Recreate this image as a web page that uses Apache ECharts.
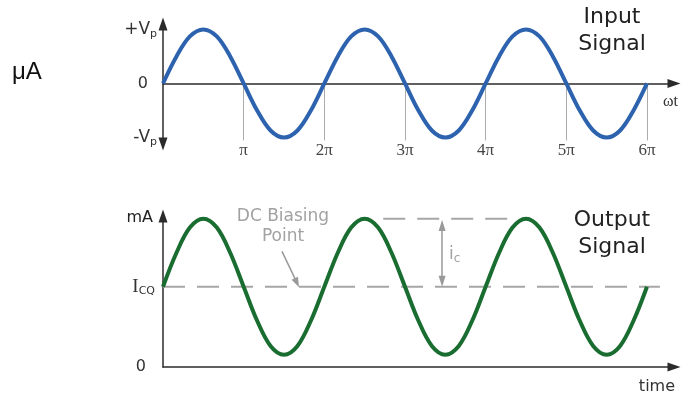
<!DOCTYPE html>
<html>
<head>
<meta charset="utf-8">
<script src="https://cdn.jsdelivr.net/npm/echarts@6/dist/echarts.min.js"></script>
<style>
  html, body { margin: 0; padding: 0; background: #ffffff; }
  #chart { width: 681px; height: 397px; }
</style>
</head>
<body>
<div id="chart"></div>
<script>
// Phase ωt expressed in multiples of π, sampled every π/6
const phase = [
  0, 0.167, 0.333, 0.5, 0.667, 0.833,
  1, 1.167, 1.333, 1.5, 1.667, 1.833,
  2, 2.167, 2.333, 2.5, 2.667, 2.833,
  3, 3.167, 3.333, 3.5, 3.667, 3.833,
  4, 4.167, 4.333, 4.5, 4.667, 4.833,
  5, 5.167, 5.333, 5.5, 5.667, 5.833,
  6
];

// Input voltage, in units of Vp
const inputSignal = [
  0, 0.5, 0.87, 1, 0.87, 0.5,
  0, -0.5, -0.87, -1, -0.87, -0.5,
  0, 0.5, 0.87, 1, 0.87, 0.5,
  0, -0.5, -0.87, -1, -0.87, -0.5,
  0, 0.5, 0.87, 1, 0.87, 0.5,
  0, -0.5, -0.87, -1, -0.87, -0.5,
  0
];

// Quiescent collector current (DC biasing point)
const icq = 1.18;

// Output collector current, swinging around ICQ
const outputSignal = [
  1.18, 1.68, 2.05, 2.18, 2.05, 1.68,
  1.18, 0.68, 0.31, 0.18, 0.31, 0.68,
  1.18, 1.68, 2.05, 2.18, 2.05, 1.68,
  1.18, 0.68, 0.31, 0.18, 0.31, 0.68,
  1.18, 1.68, 2.05, 2.18, 2.05, 1.68,
  1.18, 0.68, 0.31, 0.18, 0.31, 0.68,
  1.18
];

// Peak of the output swing
const outputPeak = 2.18;

// Tick labels
const piTickValues = [1, 2, 3, 4, 5, 6];
const piTickLabels = ['π', '2π', '3π', '4π', '5π', '6π'];
const inputTickValues = [-1, 0, 1];
const inputTickLabels = [['-V', 'p'], ['0', ''], ['+V', 'p']];
const outputTickValues = [0, icq];
const outputTickLabels = [['0', ''], ['I', 'CQ']];

// Annotation geometry (in axis units)
const icqLineEnd = 6.16;
const swingLineRange = [2.73, 4.27];
const icArrowX = 3.46;
const biasArrow = [[1.475, 1.70], [1.66, 1.24]];

const BLUE = '#2d63ae';
const GREEN = '#1a6d30';
const AXIS = '#2b2b2b';
const GREY = '#a6a6a6';
const SANS = 'DejaVu Sans';
const SERIF = 'Liberation Serif';

const xMax = 6.335;
const inputRange = [-1.12, 1.10];
const topGridHeight = 120;

// The ωt axis sits on the zero line of the input panel
const zeroOffset = -topGridHeight * (0 - inputRange[0]) / (inputRange[1] - inputRange[0]);

const axisLineStyle = { color: AXIS, width: 1.5 };

function subLabel(values, labels, mainKey) {
  return function (v) {
    let idx = values.findIndex(t => Math.abs(t - v) < 1e-6);
    if (idx < 0) return '';
    const pair = labels[idx];
    if (!pair[1]) return '{z|' + pair[0] + '}';
    return '{' + mainKey + '|' + pair[0] + '}{s|' + pair[1] + '}';
  };
}

const labelRich = {
  m: { fontFamily: SANS, fontSize: 17, color: '#333', lineHeight: 20 },
  i: { fontFamily: SERIF, fontSize: 19, color: '#333', lineHeight: 20 },
  s: { fontFamily: SANS, fontSize: 11, color: '#333', lineHeight: 11, padding: [9, 0, 0, 0], verticalAlign: 'bottom' },
  z: { fontFamily: SANS, fontSize: 16, color: '#333', lineHeight: 20, padding: [0, 9, 0, 0] }
};

const chart = echarts.init(document.getElementById('chart'), null, { renderer: 'canvas' });

chart.setOption({
  animation: false,
  backgroundColor: '#ffffff',
  grid: [
    { left: 163, top: 24, width: 511, height: topGridHeight },
    { left: 163, top: 216, width: 511, height: 151 }
  ],
  xAxis: [
    {
      gridIndex: 0, type: 'value', min: 0, max: xMax,
      offset: zeroOffset,
      axisLine: { onZero: false, lineStyle: axisLineStyle, symbol: ['none', 'triangle'], symbolSize: [9, 13] },
      axisTick: { show: true, customValues: piTickValues, length: 57, lineStyle: { color: '#ababab', width: 1 } },
      axisLabel: {
        show: true, customValues: piTickValues, margin: 59,
        formatter: v => piTickLabels[piTickValues.indexOf(v)] || '',
        fontFamily: SERIF, fontSize: 17, color: '#444'
      },
      splitLine: { show: false },
      name: 'ωt', nameLocation: 'end', nameGap: -11,
      nameTextStyle: { fontFamily: SERIF, fontSize: 16, color: '#333', align: 'left', verticalAlign: 'top', padding: [10, 0, 0, 0] }
    },
    {
      gridIndex: 1, type: 'value', min: 0, max: xMax,
      axisLine: { onZero: false, lineStyle: axisLineStyle, symbol: ['none', 'triangle'], symbolSize: [9, 13] },
      axisTick: { show: false },
      axisLabel: { show: false },
      splitLine: { show: false },
      name: 'time', nameLocation: 'end', nameGap: 1,
      nameTextStyle: { fontFamily: SANS, fontSize: 16, color: '#333', align: 'right', verticalAlign: 'top', padding: [12, 0, 0, 0] }
    }
  ],
  yAxis: [
    {
      gridIndex: 0, type: 'value', min: inputRange[0], max: inputRange[1],
      axisLine: { show: true, onZero: false, lineStyle: axisLineStyle, symbol: ['triangle', 'triangle'], symbolSize: [9, 13] },
      axisTick: { show: false },
      axisLabel: {
        show: true, customValues: inputTickValues, margin: 6,
        formatter: subLabel(inputTickValues, inputTickLabels, 'm'),
        rich: labelRich
      },
      splitLine: { show: false }
    },
    {
      gridIndex: 1, type: 'value', min: 0, max: 2.22,
      axisLine: { show: true, onZero: false, lineStyle: axisLineStyle, symbol: ['none', 'triangle'], symbolSize: [9, 13] },
      axisTick: { show: false },
      axisLabel: {
        show: true, customValues: outputTickValues, margin: 8,
        formatter: subLabel(outputTickValues, outputTickLabels, 'i'),
        rich: labelRich
      },
      splitLine: { show: false },
      name: 'mA', nameLocation: 'end', nameGap: -2,
      nameTextStyle: { fontFamily: SANS, fontSize: 16, color: '#222', align: 'right', verticalAlign: 'middle', padding: [0, 10, 0, 0] }
    }
  ],
  series: [
    {
      name: 'Input', type: 'line', xAxisIndex: 0, yAxisIndex: 0,
      data: phase.map((p, i) => [p, inputSignal[i]]),
      smooth: 0.35, showSymbol: false, z: 3,
      lineStyle: { color: BLUE, width: 4 }
    },
    {
      name: 'ICQ', type: 'line', xAxisIndex: 1, yAxisIndex: 1,
      data: [[0, icq], [icqLineEnd, icq]],
      showSymbol: false, z: 1, silent: true,
      lineStyle: { color: GREY, width: 2, type: [22, 12] }
    },
    {
      name: 'Swing', type: 'line', xAxisIndex: 1, yAxisIndex: 1,
      data: [[swingLineRange[0], outputPeak], [swingLineRange[1], outputPeak]],
      showSymbol: false, z: 1, silent: true,
      lineStyle: { color: GREY, width: 2, type: [22, 12] },
      markLine: {
        silent: true, z: 4,
        symbol: ['none', 'triangle'],
        label: { show: false },
        lineStyle: { type: 'solid', color: '#999', width: 1.5 },
        data: [
          [
            { coord: [icArrowX, icq + 0.08], symbol: 'triangle', symbolSize: [7, 11] },
            { coord: [icArrowX, outputPeak - 0.1], symbol: 'triangle', symbolSize: [7, 11] }
          ],
          [
            { coord: biasArrow[0], symbol: 'none' },
            { coord: biasArrow[1], symbol: 'triangle', symbolSize: [7, 10] }
          ]
        ]
      }
    },
    {
      name: 'Output', type: 'line', xAxisIndex: 1, yAxisIndex: 1,
      data: phase.map((p, i) => [p, outputSignal[i]]),
      smooth: 0.35, showSymbol: false, z: 3,
      lineStyle: { color: GREEN, width: 4 }
    }
  ],
  graphic: [
    {
      type: 'text', x: 12, y: 72,
      style: { text: 'μA', font: '24px "Liberation Sans"', fill: '#111', verticalAlign: 'middle' }
    },
    {
      type: 'text', x: 612, y: 4,
      style: { text: 'Input\nSignal', font: '22px "DejaVu Sans"', fill: '#222', align: 'center', verticalAlign: 'top', lineHeight: 27 }
    },
    {
      type: 'text', x: 612, y: 207,
      style: { text: 'Output\nSignal', font: '22px "DejaVu Sans"', fill: '#222', align: 'center', verticalAlign: 'top', lineHeight: 27 }
    },
    {
      type: 'text', x: 283, y: 207,
      style: { text: 'DC Biasing\nPoint', font: '17px "DejaVu Sans"', fill: '#a2a2a2', align: 'center', verticalAlign: 'top', lineHeight: 20 }
    },
    {
      type: 'text', x: 449, y: 245,
      style: {
        text: '{i|i}{c|c}',
        rich: {
          i: { fontFamily: SANS, fontSize: 17, fill: '#a2a2a2', lineHeight: 20 },
          c: { fontFamily: SANS, fontSize: 12, fill: '#a2a2a2', lineHeight: 12, padding: [9, 0, 0, 0], verticalAlign: 'bottom' }
        }
      }
    }
  ]
});
</script>
</body>
</html>
